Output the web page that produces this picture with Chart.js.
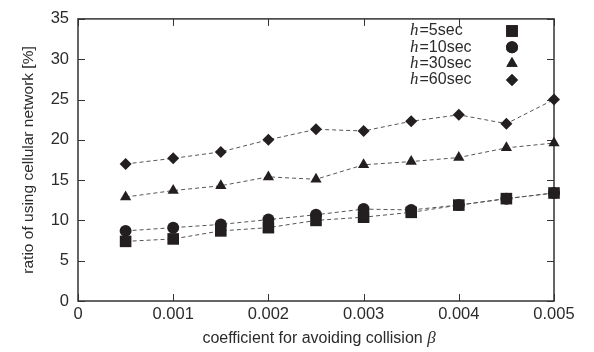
<!DOCTYPE html>
<html>
<head>
<meta charset="utf-8">
<script src="https://cdn.jsdelivr.net/npm/chart.js@4"></script>
<style>
  html, body { margin: 0; padding: 0; background: #fff; }
  #wrap { width: 594px; height: 352px; position: relative; }
</style>
</head>
<body>
<div id="wrap"><canvas id="ratioChart"></canvas></div>
<script>
// beta values (x axis)
const betaValues = [0.0005, 0.001, 0.0015, 0.002, 0.0025, 0.003, 0.0035, 0.004, 0.0045, 0.005];

// ratio of using cellular network [%]
const h5 = [7.4, 7.7, 8.7, 9.1, 10.0, 10.4, 11.0, 11.9, 12.7, 13.4];
const h10 = [8.7, 9.1, 9.5, 10.1, 10.7, 11.4, 11.3, 11.9, 12.7, 13.4];
const h30 = [12.9, 13.7, 14.3, 15.4, 15.1, 16.9, 17.3, 17.8, 19.0, 19.6];
const h60 = [17.0, 17.7, 18.5, 20.0, 21.3, 21.1, 22.3, 23.1, 22.0, 25.0];

const seriesLabels = ["5sec", "10sec", "30sec", "60sec"];
const xTicks = [0, 0.001, 0.002, 0.003, 0.004, 0.005];
const yTicks = [0, 5, 10, 15, 20, 25, 30, 35];

const textColor = "#2b2b2b";
const lineColor = "#555";
const markColor = "#231f20";
const sans = "'Liberation Sans', Arial, sans-serif";
const mathFont = "'Liberation Serif', 'DejaVu Serif', serif";

function toPoints(values) {
  return values.map((v, i) => ({ x: betaValues[i], y: v }));
}

function makeDataset(label, values, style, radius) {
  return {
    label: label,
    data: toPoints(values),
    borderColor: lineColor,
    borderWidth: 1,
    borderDash: [4, 3],
    backgroundColor: markColor,
    pointStyle: style,
    pointRadius: radius,
    pointBorderWidth: 0,
    pointBackgroundColor: markColor,
    tension: 0,
    clip: false,
  };
}

// frame with inward ticks on all four sides (gnuplot style)
const framePlugin = {
  id: "frame",
  beforeDatasetsDraw(chart) {
    const { ctx, chartArea: a, scales } = chart;
    const tl = 7;
    ctx.save();
    ctx.strokeStyle = "#333";
    ctx.lineWidth = 1.5;
    ctx.strokeRect(a.left, a.top, a.right - a.left, a.bottom - a.top);
    ctx.lineWidth = 1;
    ctx.beginPath();
    xTicks.forEach((t) => {
      const px = Math.round(scales.x.getPixelForValue(t)) + 0.5;
      ctx.moveTo(px, a.bottom);
      ctx.lineTo(px, a.bottom - tl);
      ctx.moveTo(px, a.top);
      ctx.lineTo(px, a.top + tl);
    });
    yTicks.forEach((t) => {
      const py = Math.round(scales.y.getPixelForValue(t)) + 0.5;
      ctx.moveTo(a.left, py);
      ctx.lineTo(a.left + tl, py);
      ctx.moveTo(a.right, py);
      ctx.lineTo(a.right - tl, py);
    });
    ctx.stroke();
    ctx.restore();
  },
};

// x axis title with an italic beta
const xTitlePlugin = {
  id: "xTitle",
  afterDraw(chart) {
    const { ctx, chartArea: a } = chart;
    const main = "coefficient for avoiding collision ";
    ctx.save();
    ctx.textBaseline = "middle";
    ctx.textAlign = "left";
    ctx.fillStyle = textColor;
    ctx.font = "16px " + sans;
    const w1 = ctx.measureText(main).width;
    ctx.font = "italic 17px " + mathFont;
    const w2 = ctx.measureText("β").width;
    const x0 = (a.left + a.right) / 2 + 3 - (w1 + w2) / 2;
    const y = 338.5;
    ctx.font = "16px " + sans;
    ctx.fillText(main, x0, y);
    ctx.font = "italic 17px " + mathFont;
    ctx.fillText("β", x0 + w1, y);
    ctx.restore();
  },
};

// legend: italic h, text left aligned, marker on the right
const legendPlugin = {
  id: "sideLegend",
  afterDraw(chart) {
    const { ctx } = chart;
    const textX = 410;
    const markX = 512;
    const startY = 31;
    const rowH = 16.3;
    ctx.save();
    ctx.textBaseline = "middle";
    chart.data.datasets.forEach((ds, i) => {
      const y = startY + i * rowH;
      ctx.font = "italic 17px " + mathFont;
      ctx.textAlign = "left";
      ctx.fillStyle = textColor;
      ctx.fillText("h", textX, y);
      const hw = ctx.measureText("h").width;
      ctx.font = "16px " + sans;
      ctx.fillText("=" + seriesLabels[i], textX + hw + 1, y);
      ctx.fillStyle = markColor;
      Chart.helpers.drawPoint(
        ctx,
        { pointStyle: ds.pointStyle, radius: ds.pointRadius, rotation: 0, borderWidth: 0 },
        markX,
        y
      );
      ctx.fill();
    });
    ctx.restore();
  },
};

const ctx = document.getElementById("ratioChart");
new Chart(ctx, {
  type: "line",
  data: {
    datasets: [
      makeDataset("h=5sec", h5, "rect", 8.2),
      makeDataset("h=10sec", h10, "circle", 6),
      makeDataset("h=30sec", h30, "triangle", 6.5),
      makeDataset("h=60sec", h60, "rectRot", 6),
    ],
  },
  options: {
    responsive: true,
    maintainAspectRatio: false,
    animation: false,
    layout: {
      padding: { top: 14, right: 40, left: 0, bottom: 0 },
    },
    plugins: {
      legend: { display: false },
      tooltip: { enabled: false },
    },
    scales: {
      x: {
        type: "linear",
        min: 0,
        max: 0.005,
        afterFit: (s) => { s.height = 51; },
        afterBuildTicks: (s) => { s.ticks = xTicks.map((v) => ({ value: v })); },
        grid: { display: false, drawTicks: false },
        border: { display: false },
        ticks: {
          padding: 4,
          color: textColor,
          font: { family: sans, size: 16.5 },
          callback: (v) => (v === 0 ? "0" : v.toFixed(3)),
        },
        title: { display: false },
      },
      y: {
        min: 0,
        max: 35,
        afterFit: (s) => { s.width = 78; },
        afterBuildTicks: (s) => { s.ticks = yTicks.map((v) => ({ value: v })); },
        grid: { display: false, drawTicks: false },
        border: { display: false },
        ticks: {
          padding: 9,
          color: textColor,
          font: { family: sans, size: 16.5 },
        },
        title: {
          display: true,
          text: "ratio of using cellular network [%]",
          color: textColor,
          font: { family: sans, size: 15.5 },
          padding: { top: 19, bottom: 0 },
        },
      },
    },
  },
  plugins: [framePlugin, xTitlePlugin, legendPlugin],
});
</script>
</body>
</html>
